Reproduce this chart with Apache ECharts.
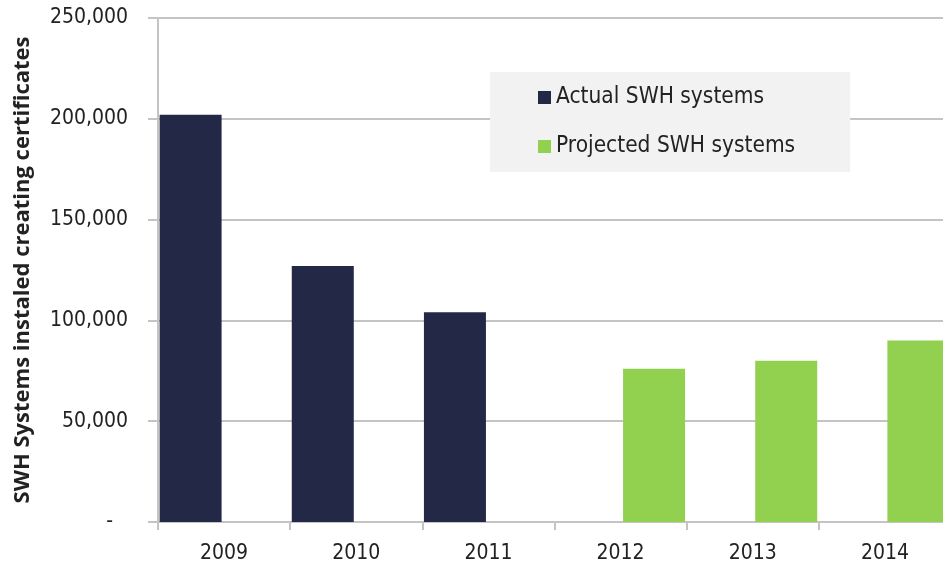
<!DOCTYPE html>
<html>
<head>
<meta charset="utf-8">
<script src="https://cdn.jsdelivr.net/npm/echarts@6/dist/echarts.min.js"></script>
<style>
  html, body { margin: 0; padding: 0; background: #ffffff; overflow: hidden; }
  #chart { width: 960px; height: 567px; }
</style>
</head>
<body>
<div id="chart"></div>
<script>
// Solar water heater installations creating certificates, by year
const years = ['2009', '2010', '2011', '2012', '2013', '2014'];
const actualSystems = [202000, 127000, 104000, null, null, null];
const projectedSystems = [null, null, null, 76000, 80000, 90000];
const yTicks = { min: 0, max: 250000, interval: 50000 };

const labelFont = '"DejaVu Sans Condensed", "DejaVu Sans", sans-serif';
const textColor = '#222222';
const gridGray = '#c4c4c4';

const chart = echarts.init(document.getElementById('chart'), null, { renderer: 'canvas' });

chart.setOption({
  animation: false,
  backgroundColor: '#ffffff',
  // the plot runs slightly past the visible page edge on the right
  grid: { left: 158, right: 9, top: 18, bottom: 45 },
  legend: {
    orient: 'vertical',
    left: 490,
    top: 72,
    backgroundColor: '#f2f2f2',
    padding: [14, 55, 14, 48],
    itemGap: 26,
    itemWidth: 13,
    itemHeight: 13,
    icon: 'rect',
    textStyle: { fontFamily: labelFont, fontSize: 22.5, color: textColor },
    data: ['Actual SWH systems', 'Projected SWH systems']
  },
  xAxis: {
    type: 'category',
    data: years,
    axisLine: { lineStyle: { color: gridGray, width: 2 } },
    axisTick: { show: true, length: 8, lineStyle: { color: gridGray, width: 2 } },
    axisLabel: { margin: 21, fontFamily: labelFont, fontSize: 21, color: textColor }
  },
  yAxis: {
    type: 'value',
    min: yTicks.min,
    max: yTicks.max,
    interval: yTicks.interval,
    name: 'SWH Systems instaled creating certificates',
    nameLocation: 'middle',
    nameGap: 124,
    nameRotate: 90,
    nameTextStyle: { fontFamily: '"Open Sans", sans-serif', fontWeight: 'bold', fontSize: 22, color: textColor },
    axisLine: { show: true, lineStyle: { color: gridGray, width: 2 } },
    axisTick: { show: true, length: 10, lineStyle: { color: gridGray, width: 2 } },
    splitLine: { show: true, lineStyle: { color: gridGray, width: 2 } },
    axisLabel: {
      margin: 30,
      fontFamily: labelFont,
      fontSize: 21,
      color: textColor,
      formatter: function (v) {
        return v === 0 ? '{z|-}' : v.toLocaleString('en-US');
      },
      rich: { z: { fontFamily: labelFont, fontSize: 21, color: textColor, padding: [0, 15, 0, 0] } }
    }
  },
  series: [
    {
      name: 'Actual SWH systems',
      type: 'bar',
      data: actualSystems,
      barWidth: 62,
      barGap: '8%',
      itemStyle: { color: '#232846' }
    },
    {
      name: 'Projected SWH systems',
      type: 'bar',
      data: projectedSystems,
      barWidth: 62,
      barGap: '8%',
      itemStyle: { color: '#92d050' }
    }
  ]
});
</script>
</body>
</html>
